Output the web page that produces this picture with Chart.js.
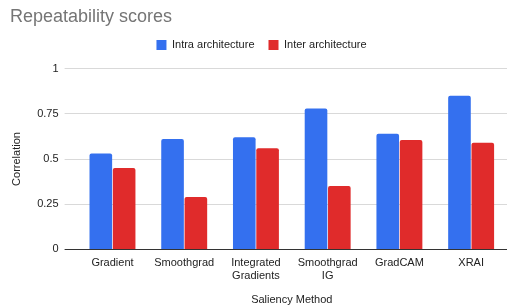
<!DOCTYPE html>
<html>
<head>
<meta charset="utf-8">
<script src="https://cdn.jsdelivr.net/npm/chart.js@4"></script>
<style>
  html, body { margin: 0; padding: 0; background: #fff; }
  #wrap { width: 509px; height: 307px; }
</style>
</head>
<body>
<div id="wrap"><canvas id="repeatChart" width="509" height="307"></canvas></div>
<script>
// Repeatability scores per saliency method
const methods = ['Gradient', 'Smoothgrad', ['Integrated', 'Gradients'], ['Smoothgrad', 'IG'], 'GradCAM', 'XRAI'];
const intraArch = [0.53, 0.61, 0.62, 0.78, 0.64, 0.85];
const interArch = [0.45, 0.29, 0.56, 0.35, 0.605, 0.59];
const yTicks = [0, 0.25, 0.5, 0.75, 1];

const FONT = "'Liberation Sans', Arial, sans-serif";

// a bit more room under the legend, and nudge it right like the original
const legendTweak = {
    id: 'legendTweak',
    beforeInit(chart) {
        const fit = chart.legend.fit;
        chart.legend.fit = function() {
            fit.bind(chart.legend)();
            this.height += 8;
        };
    },
    afterLayout(chart) {
        chart.legend.left += 3;
        chart.legend.right += 3;
    }
};

document.addEventListener('DOMContentLoaded', function() {
    const ctx = document.getElementById('repeatChart').getContext('2d');

    new Chart(ctx, {
        type: 'bar',
        data: {
            labels: methods,
            datasets: [{
                label: 'Intra architecture',
                data: intraArch,
                backgroundColor: '#3470EF',
                borderRadius: { topLeft: 2, topRight: 2 },
                borderSkipped: 'bottom'
            }, {
                label: 'Inter architecture',
                data: interArch,
                backgroundColor: '#E02B2B',
                borderRadius: { topLeft: 2, topRight: 2 },
                borderSkipped: 'bottom'
            }]
        },
        plugins: [legendTweak],
        options: {
            responsive: false,
            animation: false,
            categoryPercentage: 0.65,
            barPercentage: 0.97,
            layout: { padding: { left: 10, right: 2, top: 4, bottom: 0 } },
            plugins: {
                title: {
                    display: true,
                    text: 'Repeatability scores',
                    align: 'start',
                    color: '#757575',
                    font: { family: FONT, size: 18, weight: 'normal' },
                    padding: { top: 2, bottom: -2 }
                },
                legend: {
                    display: true,
                    labels: {
                        boxWidth: 10,
                        boxHeight: 10,
                        color: '#222',
                        padding: 14,
                        font: { family: FONT, size: 11 }
                    }
                },
                tooltip: { enabled: false }
            },
            scales: {
                x: {
                    grid: { display: false, drawTicks: false },
                    border: { display: false },
                    ticks: {
                        color: '#222',
                        font: { family: FONT, size: 11 },
                        maxRotation: 0,
                        padding: 7
                    },
                    title: {
                        display: true,
                        text: 'Saliency Method',
                        color: '#222',
                        font: { family: FONT, size: 11 },
                        padding: { top: 4, bottom: 0 }
                    }
                },
                y: {
                    min: 0,
                    max: 1,
                    afterBuildTicks: function(axis) {
                        axis.ticks = yTicks.map(v => ({ value: v }));
                    },
                    grid: {
                        color: c => c.tick && c.tick.value === 0 ? '#333' : '#d9d9d9',
                        tickColor: c => c.tick && c.tick.value === 0 ? '#333' : '#d9d9d9',
                        tickLength: 12,
                        drawTicks: true
                    },
                    border: { display: false },
                    ticks: {
                        color: '#222',
                        font: { family: FONT, size: 11 },
                        padding: 6,
                        callback: v => String(v)
                    },
                    title: {
                        display: true,
                        text: 'Correlation',
                        color: '#222',
                        font: { family: FONT, size: 11 },
                        padding: { top: 0, bottom: 8 }
                    }
                }
            }
        }
    });
});
</script>
</body>
</html>
